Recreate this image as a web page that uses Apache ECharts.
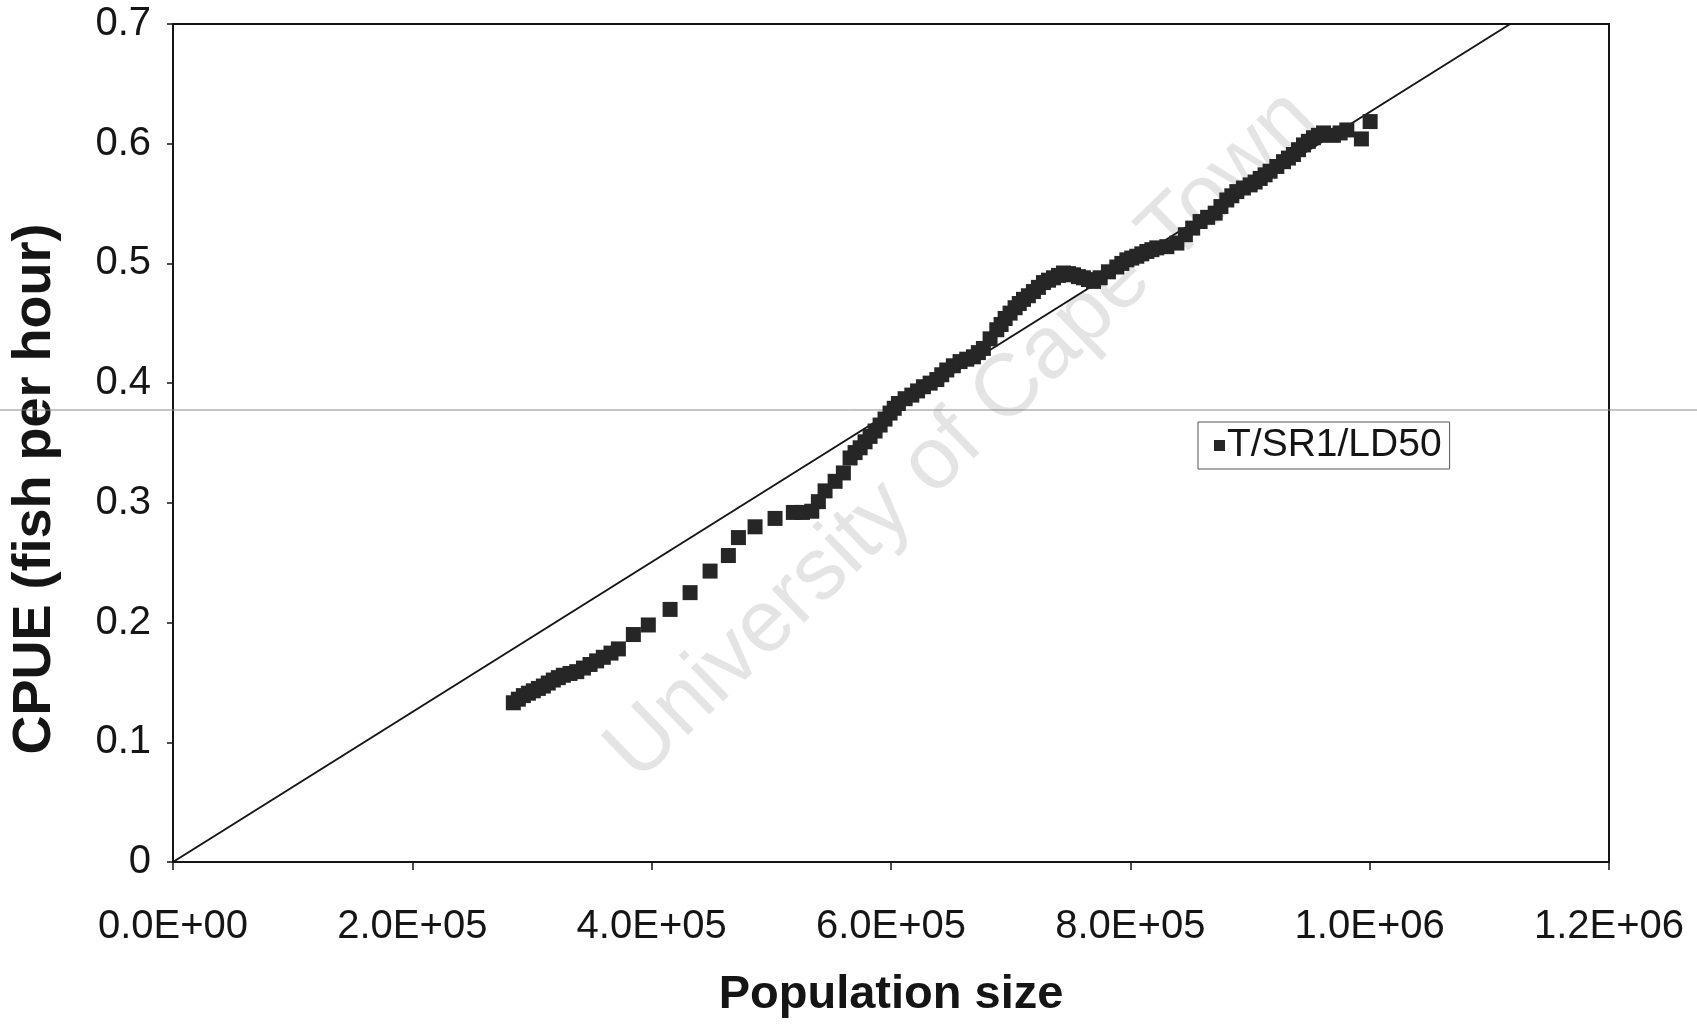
<!DOCTYPE html>
<html>
<head>
<meta charset="utf-8">
<title>CPUE vs population size</title>
<script src="https://cdn.jsdelivr.net/npm/echarts@6/dist/echarts.min.js"></script>
<style>
  html, body { margin: 0; padding: 0; background: #ffffff; }
  #chart { width: 1697px; height: 1024px; }
</style>
</head>
<body>
<div id="chart"></div>
<script>
// Simulated population size (x) and catch per unit effort (y), series T/SR1/LD50
const popSize = [
  284400, 288600, 292800, 297000, 301100, 305300, 309500, 313600, 317800, 322000,
  326200, 331800, 337400, 343000, 348500, 354000, 359600, 366000, 372200, 384700,
  397200, 415400, 432100, 448800, 464100, 472500, 486400, 503100, 518400, 526000,
  533800, 539300, 544900, 553300, 560200, 565800, 570000, 574200, 578300, 582500,
  586700, 590900, 595000, 599200, 602700, 606200, 611800, 617400, 622200, 627100,
  632700, 638300, 642400, 646600, 652100, 657700, 663300, 668900, 673000, 677200,
  682800, 688400, 692000, 695400, 699500, 703700, 707200, 710700, 714800, 719000,
  723200, 727400, 731600, 735800, 740000, 744100, 748300, 752500, 756600, 760800,
  765000, 769200, 774800, 781700, 788700, 792900, 797100, 801200, 805400, 809600,
  813800, 818000, 822100, 830500, 838900, 846000, 852100, 858300, 864600, 870900,
  875700, 880600, 884800, 889000, 894500, 900100, 904300, 908500, 912600, 916800,
  922400, 928000, 932100, 936300, 940500, 944700, 948800, 953000, 957200, 961400,
  969700, 975300, 980900, 993100, 1000400
];
const cpue = [
  0.133, 0.136, 0.139, 0.141, 0.143, 0.145, 0.147, 0.1495, 0.152, 0.154,
  0.156, 0.1575, 0.159, 0.162, 0.165, 0.168, 0.171, 0.1745, 0.178, 0.190,
  0.198, 0.211, 0.225, 0.243, 0.256, 0.271, 0.280, 0.287, 0.292, 0.292,
  0.293, 0.301, 0.310, 0.318, 0.325, 0.3375, 0.342, 0.346, 0.351, 0.3555,
  0.360, 0.365, 0.370, 0.375, 0.379, 0.383, 0.387, 0.390, 0.3935, 0.397,
  0.400, 0.403, 0.407, 0.411, 0.4145, 0.418, 0.420, 0.422, 0.4255, 0.429,
  0.437, 0.4446, 0.449, 0.454, 0.4585, 0.463, 0.4665, 0.470, 0.473, 0.4765,
  0.480, 0.484, 0.486, 0.488, 0.490, 0.492, 0.4915, 0.4905, 0.489, 0.488,
  0.4865, 0.485, 0.488, 0.493, 0.497, 0.500, 0.503, 0.5045, 0.506, 0.508,
  0.510, 0.5115, 0.513, 0.514, 0.517, 0.524, 0.5295, 0.535, 0.5385, 0.542,
  0.5475, 0.553, 0.5565, 0.560, 0.563, 0.5656, 0.568, 0.571, 0.574, 0.577,
  0.581, 0.585, 0.588, 0.591, 0.595, 0.599, 0.602, 0.605, 0.607, 0.609,
  0.607, 0.609, 0.6115, 0.604, 0.6185
];

// Straight reference line through the origin
const refLineX = [0, 1117400];
const refLineY = [0, 0.7];

// Tick labels in scientific notation
const xTickLabels = ['0.0E+00', '2.0E+05', '4.0E+05', '6.0E+05', '8.0E+05', '1.0E+06', '1.2E+06'];
const yTickLabels = ['0', '0.1', '0.2', '0.3', '0.4', '0.5', '0.6', '0.7'];

const seriesName = 'T/SR1/LD50';
const xTitle = 'Population size';
const yTitle = 'CPUE (fish per hour)';
const watermark = 'University of Cape Town';

const FONT = "'Liberation Sans', Arial, sans-serif";
const INK = '#151515';

const X_STEP = 200000;
const Y_STEP = 0.1;

const chart = echarts.init(document.getElementById('chart'), null, { renderer: 'canvas' });

chart.setOption({
  backgroundColor: '#ffffff',
  animation: false,
  grid: {
    left: 173, right: 88, top: 24, bottom: 161,
    show: true, borderColor: INK, borderWidth: 2, backgroundColor: 'transparent'
  },
  legend: {
    data: [seriesName],
    left: 1198, top: 422,
    orient: 'vertical',
    icon: 'rect',
    itemWidth: 11, itemHeight: 11, itemGap: 0,
    padding: [4, 8, 4, 16],
    borderColor: '#555', borderWidth: 1,
    textStyle: { fontFamily: FONT, fontSize: 39, color: INK, padding: [0, 0, 0, -3] }
  },
  xAxis: {
    type: 'value', min: 0, max: 1200000, interval: X_STEP,
    name: xTitle, nameLocation: 'middle', nameGap: 110,
    nameTextStyle: { fontFamily: FONT, fontSize: 47, fontWeight: 'bold', color: INK },
    axisLine: { show: true, lineStyle: { color: INK, width: 2 } },
    axisTick: { show: true, inside: false, length: 8, lineStyle: { color: INK, width: 1.5 } },
    axisLabel: {
      margin: 45, fontFamily: FONT, fontSize: 40, color: INK,
      formatter: v => xTickLabels[Math.round(v / X_STEP)]
    },
    splitLine: { show: false }
  },
  yAxis: {
    type: 'value', min: 0, max: 0.7, interval: Y_STEP,
    axisLine: { show: true, lineStyle: { color: INK, width: 2 } },
    axisTick: { show: true, inside: false, length: 6, lineStyle: { color: INK, width: 1.5 } },
    axisLabel: {
      margin: 22, fontFamily: FONT, fontSize: 40, color: INK,
      formatter: v => yTickLabels[Math.round(v / Y_STEP)]
    },
    splitLine: { show: false }
  },
  graphic: [
    {
      // faint crease running across the page
      type: 'line', z: 1, silent: true,
      shape: { x1: 0, y1: 410, x2: 1697, y2: 410 },
      style: { stroke: '#8a8a8a', lineWidth: 1 }
    },
    {
      type: 'text', z: 0, silent: true,
      x: 962, y: 436, rotation: Math.PI * 0.245,
      style: {
        text: watermark, fontFamily: FONT, fontSize: 88,
        fill: '#e4e4e4', align: 'center', verticalAlign: 'middle'
      }
    },
    {
      type: 'text', silent: true,
      x: 35, y: 489, rotation: Math.PI / 2,
      style: {
        text: yTitle, fontFamily: FONT, fontSize: 54, fontWeight: 'bold',
        fill: INK, align: 'center', verticalAlign: 'middle'
      }
    }
  ],
  series: [
    {
      name: 'reference',
      type: 'line',
      data: refLineX.map((x, i) => [x, refLineY[i]]),
      showSymbol: false, symbol: 'none',
      lineStyle: { color: INK, width: 2 },
      z: 3, silent: true
    },
    {
      name: seriesName,
      type: 'scatter',
      data: popSize.map((x, i) => [x, cpue[i]]),
      symbol: 'rect', symbolSize: 15,
      itemStyle: { color: '#262626', opacity: 1 },
      z: 4
    }
  ]
});
</script>
</body>
</html>
